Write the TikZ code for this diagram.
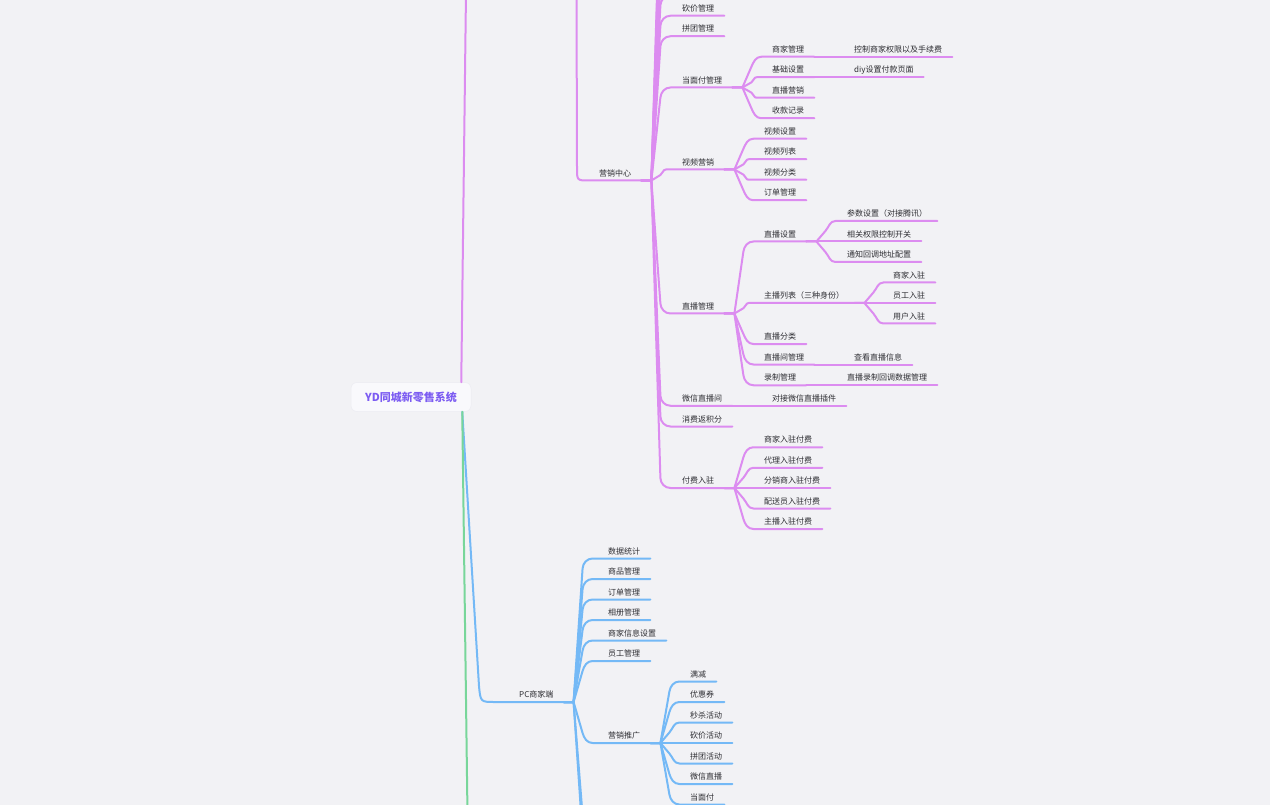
\documentclass[tikz,border=0pt]{standalone}
\usepackage{fontspec}
\newfontfamily\cjk{Noto Sans CJK SC}
\usetikzlibrary{calc}
\definecolor{bgc}{HTML}{F2F2F5}
\definecolor{cpu}{HTML}{DC8CF0}
\definecolor{cbl}{HTML}{74B9F6}
\definecolor{cgr}{HTML}{78D69A}
\definecolor{txt}{HTML}{2E2E33}
\definecolor{rootc}{HTML}{7C5CF2}
\definecolor{rootf}{HTML}{F9F9FC}
\definecolor{rootd}{HTML}{ECECF2}
\newcommand\mmlink[3]{\draw[#1] (#2.south east) to[br] (#3.south west) -- (#3.south east);}
\tikzset{
  tx/.style={anchor=south west, inner xsep=10pt, inner ysep=2.2pt, text height=6pt, text depth=2pt,
    font=\cjk\fontsize{8}{9}\selectfont, text=txt},
  rootbox/.style={rounded corners=6pt, fill=rootf, draw=rootd, line width=0.5pt,
    minimum width=120pt, minimum height=29pt, inner sep=0pt,
    font=\cjk\bfseries\fontsize{11}{13}\selectfont, text=rootc},
  conn/.style={line width=2pt, line cap=round, line join=round},
  cp/.style={conn, draw=cpu},
  cb/.style={conn, draw=cbl},
  cg/.style={conn, draw=cgr},
  br/.style={to path={let \p1=(\tikztostart), \p2=(\tikztotarget),
      \n2={min(10,abs(\y2-(\y1))/2)},
      \n4={-sign(\y2-(\y1))*min(10,abs(\y2-(\y1))/2)},
      \n1={\y2+(\n4*1pt)-(\y1)},
      \n5={max(veclen(9,\n1),0.01)},
      \n6={0.55*\n2/\n5} in
      -- ($(\p1)+(10pt,0pt)$)
      -- ($(\x1,\y2)+(19pt,\n4*1pt)$)
      .. controls ($(\x1,\y2)+(19pt+9*\n6*1pt,\n4*1pt+\n1*\n6*1pt)$)
         and ($(\x1,\y2)+(19pt+\n2*0.45pt,0pt)$) .. ($(\x1,\y2)+(19pt+\n2*1pt,0pt)$)
      -- (\tikztotarget)}},
}
\begin{document}
\begin{tikzpicture}[x=1pt,y=-1pt]
\useasboundingbox (0,0) rectangle (1270,805);
\fill[bgc] (0,0) rectangle (1270,805);
\clip (0,0) rectangle (1270,805);

% root
\node[rootbox] (root) at (411,397) {YD同城新零售系统};

% purple: 营销中心 subtree
\node[tx] (yx) at (589,180.5) {营销中心};
\node[tx] (kj) at (672,15.75) {砍价管理};
\node[tx] (ptg) at (672,36.25) {拼团管理};
\node[tx] (dmf) at (672,87.5) {当面付管理};
\node[tx] (sjgl) at (762,56.75) {商家管理};
\node[tx] (kzsj) at (844,56.75) {控制商家权限以及手续费};
\node[tx] (jcsz) at (762,77.25) {基础设置};
\node[tx] (diy) at (844,77.25) {diy设置付款页面};
\node[tx] (zbyx) at (762,97.75) {直播营销};
\node[tx] (skjl) at (762,118.25) {收款记录};
\node[tx] (spyx) at (672,169.5) {视频营销};
\node[tx] (spsz) at (754,138.75) {视频设置};
\node[tx] (splb) at (754,159.25) {视频列表};
\node[tx] (spfl) at (754,179.75) {视频分类};
\node[tx] (ddgl) at (754,200.25) {订单管理};
\node[tx] (zbgl) at (672,313.5) {直播管理};
\node[tx] (zbsz) at (754,241.5) {直播设置};
\node[tx] (cssz) at (837,221) {参数设置（对接腾讯）};
\node[tx] (xgqx) at (837,241.5) {相关权限控制开关};
\node[tx] (tzhd) at (837,262) {通知回调地址配置};
\node[tx] (zblb) at (754,303) {主播列表（三种身份）};
\node[tx] (sjrz) at (883,282.5) {商家入驻};
\node[tx] (ygrz) at (883,303) {员工入驻};
\node[tx] (yhrz) at (883,323.5) {用户入驻};
\node[tx] (zbfl) at (754,344) {直播分类};
\node[tx] (zbjgl) at (754,364.5) {直播间管理};
\node[tx] (ckzb) at (844,364.5) {查看直播信息};
\node[tx] (lzgl) at (754,385.25) {录制管理};
\node[tx] (zblz) at (837,385.25) {直播录制回调数据管理};
\node[tx] (wxzbj) at (672,405.75) {微信直播间};
\node[tx] (djwx) at (762,405.75) {对接微信直播插件};
\node[tx] (xfjf) at (672,426.5) {消费返积分};
\node[tx] (ffrz) at (672,488) {付费入驻};
\node[tx] (f1) at (754,447.25) {商家入驻付费};
\node[tx] (f2) at (754,467.75) {代理入驻付费};
\node[tx] (f3) at (754,488) {分销商入驻付费};
\node[tx] (f4) at (754,508.5) {配送员入驻付费};
\node[tx] (f5) at (754,529) {主播入驻付费};

% blue: PC商家端 subtree
\node[tx] (pc) at (509,702) {PC商家端};
\node[tx] (b1) at (598,558.5) {数据统计};
\node[tx] (b2) at (598,579) {商品管理};
\node[tx] (b3) at (598,599.5) {订单管理};
\node[tx] (b4) at (598,620) {相册管理};
\node[tx] (b5) at (598,640.5) {商家信息设置};
\node[tx] (b6) at (598,661) {员工管理};
\node[tx] (yxtg) at (598,743) {营销推广};
\node[tx] (m1) at (680,681.5) {满减};
\node[tx] (m2) at (680,702) {优惠券};
\node[tx] (m3) at (680,722.5) {秒杀活动};
\node[tx] (m4) at (680,743) {砍价活动};
\node[tx] (m5) at (680,763.5) {拼团活动};
\node[tx] (m6) at (680,784) {微信直播};
\node[tx] (m7) at (680,804.5) {当面付};

% off-canvas ends
\coordinate (pupTop) at (466,-8);
\coordinate (grBot) at (467.5,815);
\coordinate (pcBend) at (479,686);
\coordinate (yxTop) at (576.5,-8);
\coordinate (yxBend) at (577,168);
\foreach \k in {1,...,7} {\coordinate (u\k) at (672,{15.75-20.5*\k});}
\coordinate (bo1) at (598,825);
\coordinate (bo2) at (598,845.5);

% root connectors
\draw[cp] ($(root.north east)+(-10pt,0pt)$) -- (pupTop);
\draw[cb] ($(root.south east)+(-9pt,0pt)$) -- (pcBend) .. controls (480.5,702) .. (495,702) -- (pc.south west) -- (pc.south east);
\draw[cg] ($(root.south east)+(-9pt,0pt)$) -- (grBot);

% 营销中心
\draw[cp] (yxTop) -- (yxBend) .. controls (577,180.5) .. (yx.south west) -- (yx.south east);
\foreach \k in {1,...,7} {\draw[cp] (yx.south east) to[br] (u\k) -- ++(50pt,0pt);}
\foreach \c in {kj,ptg,dmf,spyx,zbgl,wxzbj,xfjf,ffrz} {\mmlink{cp}{yx}{\c}}
\foreach \c in {sjgl,jcsz,zbyx,skjl} {\mmlink{cp}{dmf}{\c}}
\mmlink{cp}{sjgl}{kzsj}
\mmlink{cp}{jcsz}{diy}
\foreach \c in {spsz,splb,spfl,ddgl} {\mmlink{cp}{spyx}{\c}}
\foreach \c in {zbsz,zblb,zbfl,zbjgl,lzgl} {\mmlink{cp}{zbgl}{\c}}
\foreach \c in {cssz,xgqx,tzhd} {\mmlink{cp}{zbsz}{\c}}
\foreach \c in {sjrz,ygrz,yhrz} {\mmlink{cp}{zblb}{\c}}
\mmlink{cp}{zbjgl}{ckzb}
\mmlink{cp}{lzgl}{zblz}
\mmlink{cp}{wxzbj}{djwx}
\foreach \c in {f1,f2,f3,f4,f5} {\mmlink{cp}{ffrz}{\c}}

% PC商家端
\foreach \c in {b1,b2,b3,b4,b5,b6,yxtg} {\mmlink{cb}{pc}{\c}}
\draw[cb] (pc.south east) to[br] (bo1) -- ++(50pt,0pt);
\draw[cb] (pc.south east) to[br] (bo2) -- ++(50pt,0pt);
\foreach \c in {m1,m2,m3,m4,m5,m6,m7} {\mmlink{cb}{yxtg}{\c}}
\end{tikzpicture}
\end{document}
